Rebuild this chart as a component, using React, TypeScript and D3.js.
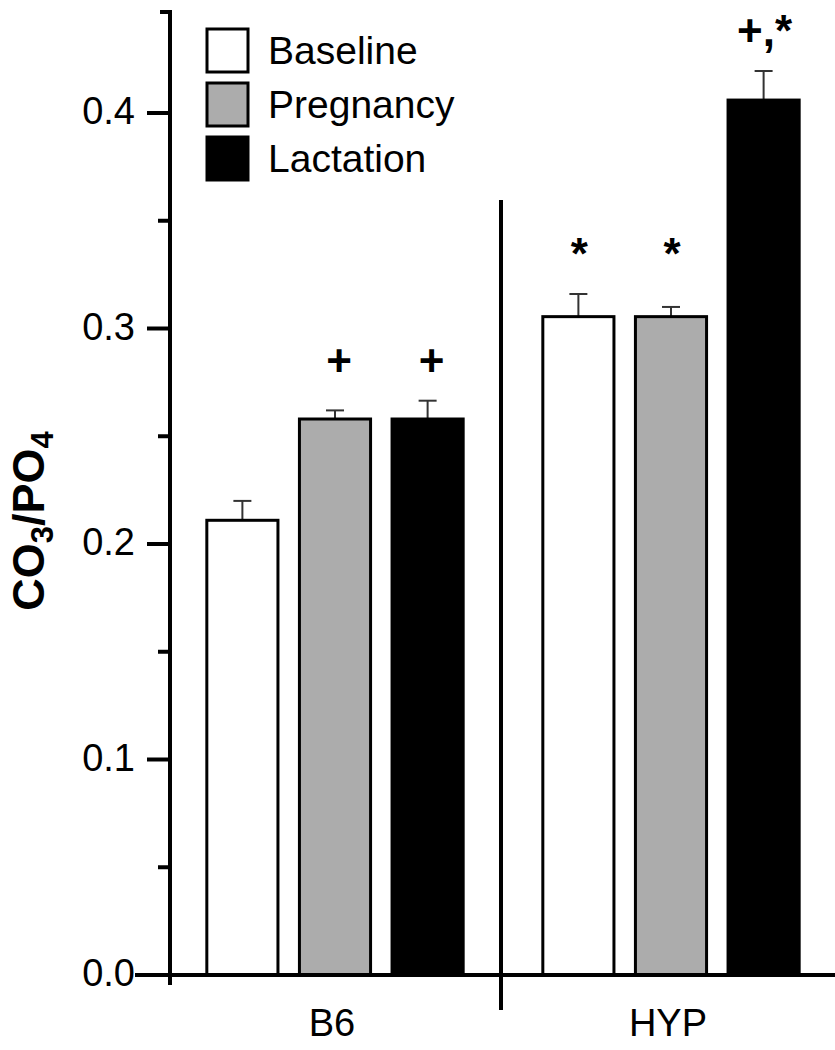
import React from "react";
import * as d3 from "d3";

const groups = ["B6", "HYP"];
const seriesNames = ["Baseline", "Pregnancy", "Lactation"];
const seriesFill = ["#ffffff", "#acacac", "#000000"];
const b6Values = [0.211, 0.258, 0.258];
const b6Errors = [0.009, 0.004, 0.0085];
const hypValues = [0.3055, 0.3055, 0.406];
const hypErrors = [0.0105, 0.0045, 0.0135];
const b6Marks = ["", "+", "+"];
const hypMarks = ["*", "*", "+,*"];
const yTickValues = [0, 0.1, 0.2, 0.3, 0.4];
const yMinorValues = [0.05, 0.15, 0.25, 0.35];

const W = 835;
const H = 1050;
const FONT = "'Liberation Sans', Arial, Helvetica, sans-serif";

export default function App() {
  const y = d3.scaleLinear().domain([0, 0.4]).range([975, 113]);
  const yTop = y.invert(12);
  const x0 = d3.scaleBand<string>().domain(groups).range([167, 839]).padding(0);
  const x1 = d3
    .scaleBand<string>()
    .domain(seriesNames)
    .range([0, x0.bandwidth()])
    .paddingInner(0.232)
    .paddingOuter(0.43);

  const data = groups.map((g, gi) => {
    const vals = gi === 0 ? b6Values : hypValues;
    const errs = gi === 0 ? b6Errors : hypErrors;
    const marks = gi === 0 ? b6Marks : hypMarks;
    return seriesNames.map((s, si) => ({
      group: g,
      series: s,
      si,
      value: vals[si],
      err: errs[si],
      mark: marks[si],
    }));
  });

  const axisX = 170;
  const baseY = y(0);
  const bw = x1.bandwidth();
  const dividerX = (x0("B6")! + x0.bandwidth() + x0("HYP")!) / 2 - 2;

  return (
    <svg
      width={W}
      height={H}
      style={{ position: "absolute", left: 0, top: 0, background: "#fff" }}
      fontFamily={FONT}
    >
      <rect x={0} y={0} width={W} height={H} fill="#fff" />
      {/* bars */}
      {data.map((grp, gi) =>
        grp.map((d) => {
          const bx = x0(d.group)! + x1(d.series)!;
          const cx = bx + bw / 2;
          const top = y(d.value);
          const cap = y(d.value + d.err);
          return (
            <g key={`${gi}-${d.si}`}>
              <line x1={cx} x2={cx} y1={top} y2={cap} stroke="#333" strokeWidth={2} />
              <line x1={cx - 9} x2={cx + 9} y1={cap} y2={cap} stroke="#333" strokeWidth={2} />
              <rect
                x={bx}
                y={top}
                width={bw}
                height={baseY - top}
                fill={seriesFill[d.si]}
                stroke="#000"
                strokeWidth={3}
              />
            </g>
          );
        })
      )}
      {/* significance marks */}
      {data.map((grp, gi) => {
        const labels = Array.from(new Set(grp.filter((d) => d.mark).map((d) => d.mark)));
        return labels.map((lab) => {
          const members = grp.filter((d) => d.mark === lab);
          const maxTop = d3.max(members, (d) => d.value + d.err)!;
          const by = y(maxTop) - 25;
          return members.map((d) => {
            const cx = x0(d.group)! + x1(d.series)! + bw / 2 + (lab === "+" ? 4 : 1);
            return (
              <text
                key={`m-${gi}-${d.si}`}
                x={cx}
                y={by}
                textAnchor="middle"
                fontSize={44}
                fontWeight="bold"
                fill="#000"
              >
                {lab}
              </text>
            );
          });
        });
      })}
      {/* divider */}
      <line x1={dividerX} x2={dividerX} y1={200} y2={1010} stroke="#000" strokeWidth={4} />
      {/* y axis */}
      <line x1={axisX} x2={axisX} y1={y(yTop)} y2={985} stroke="#000" strokeWidth={4} />
      <line x1={160} x2={axisX + 2} y1={y(yTop)} y2={y(yTop)} stroke="#000" strokeWidth={4} />
      {yTickValues.map((t) => (
        <g key={`t${t}`}>
          <line x1={147} x2={axisX} y1={y(t)} y2={y(t)} stroke="#000" strokeWidth={4} />
          <text
            x={135}
            y={y(t) + 11}
            textAnchor="end"
            fontSize={38}
            fill="#000"
          >
            {d3.format(".1f")(t)}
          </text>
        </g>
      ))}
      {yMinorValues.map((t) => (
        <line key={`mt${t}`} x1={158} x2={axisX} y1={y(t)} y2={y(t)} stroke="#000" strokeWidth={4} />
      ))}
      {/* x axis */}
      <line x1={135} x2={W} y1={baseY} y2={baseY} stroke="#000" strokeWidth={4} />
      {groups.map((g) => (
        <text
          key={g}
          x={x0(g)! + x0.bandwidth() / 2 - 3}
          y={1036}
          textAnchor="middle"
          fontSize={38}
          fill="#000"
        >
          {g}
        </text>
      ))}
      {/* y label */}
      <text
        transform={`translate(44, ${521}) rotate(-90)`}
        textAnchor="middle"
        fontSize={45}
        fontWeight="bold"
        fill="#000"
      >
        CO
        <tspan fontSize={31} dy={9}>3</tspan>
        <tspan dy={-9}>/PO</tspan>
        <tspan fontSize={31} dy={9}>4</tspan>
      </text>
      {/* legend */}
      {seriesNames.map((s, i) => {
        const ly = 29 + i * 54;
        return (
          <g key={`lg${s}`}>
            <rect x={207} y={ly} width={41} height={43} fill={seriesFill[i]} stroke="#000" strokeWidth={3} />
            <text x={268} y={ly + 35} fontSize={39} fill="#000">
              {s}
            </text>
          </g>
        );
      })}
    </svg>
  );
}
